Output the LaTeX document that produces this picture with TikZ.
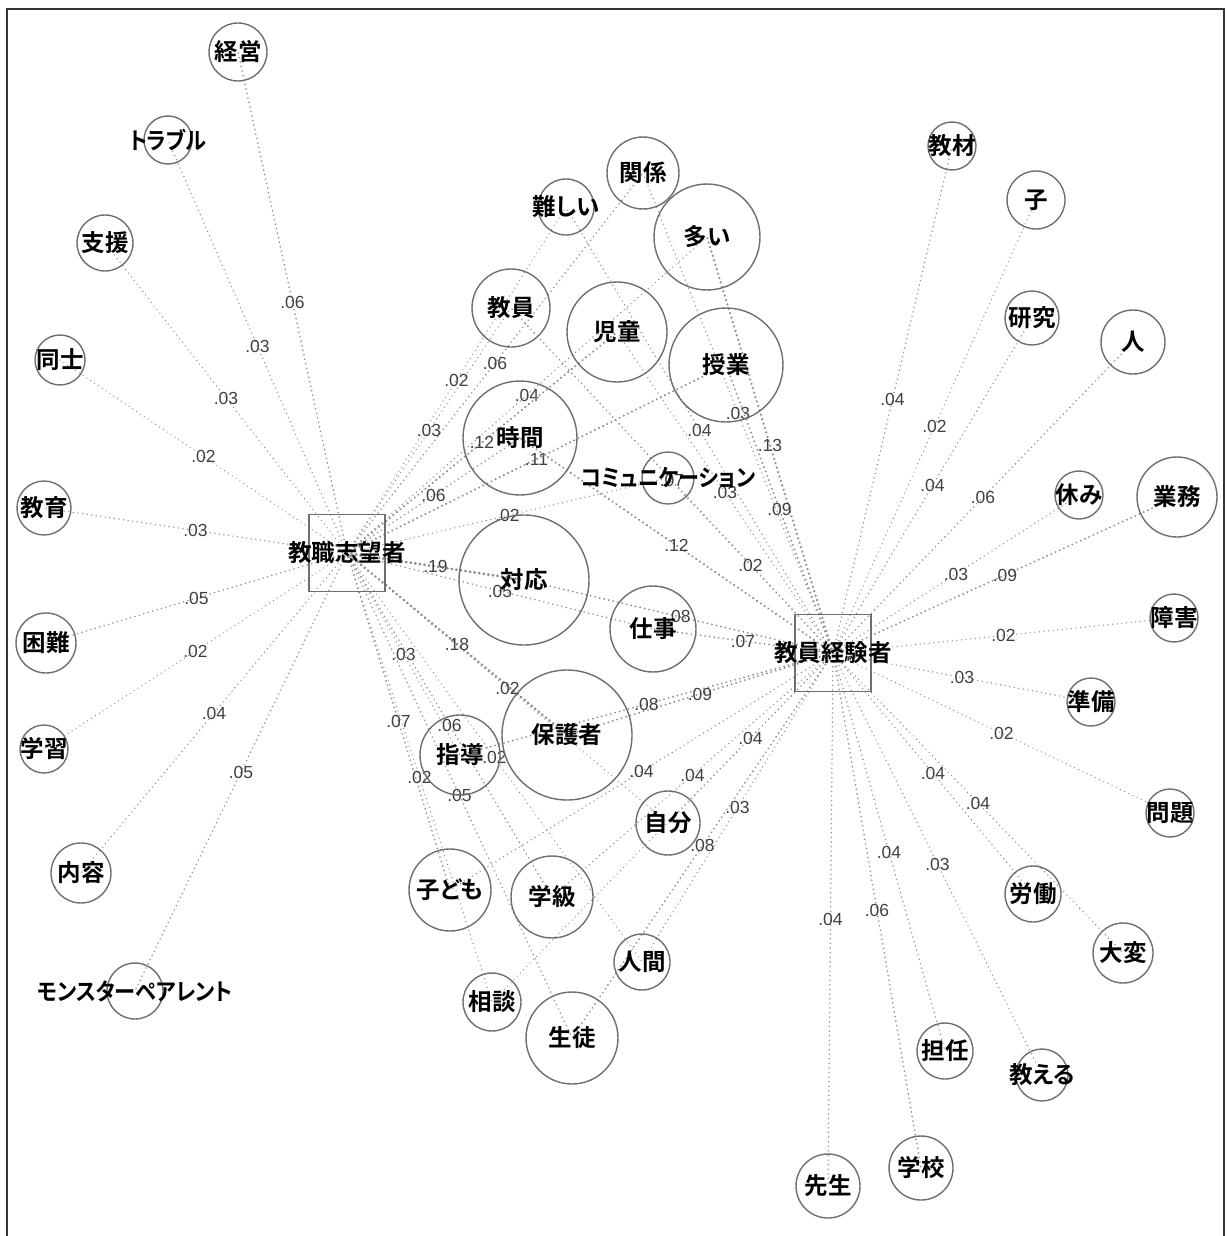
\documentclass[tikz,border=0pt]{standalone}
\usepackage{fontspec}
\setmainfont{Noto Sans CJK JP}[BoldFont={Noto Sans CJK JP Bold}, RawFeature=+palt]
\newfontfamily\coeffont{Liberation Sans}
\pgfdeclarelayer{bg}
\pgfsetlayers{bg,main}
\definecolor{dotgray}{HTML}{8E8E8E}
\definecolor{rimgray}{HTML}{6E6E6E}
\tikzset{
  word/.style={circle, draw=rimgray, line width=1.4pt, minimum size=#1, inner sep=0pt,
    font=\fontsize{23.5}{25}\selectfont\bfseries},
  hub/.style={draw=rimgray, line width=1.4pt, minimum width=76pt, minimum height=77pt,
    inner sep=0pt, font=\fontsize{23.5}{25}\selectfont\bfseries},
  coef/.style={font=\coeffont\fontsize{17.5}{19}\selectfont, text=black!75, inner sep=0pt},
  link/.style={draw=dotgray, line cap=round, dash pattern=on 0.01pt off 4.6pt},
}
% text wider than its circle is let out of it
\newcommand{\kw}[1]{\makebox[0pt]{#1}}
% katakana words are set a little narrower
\newcommand{\kk}[1]{\makebox[0pt]{\scalebox{0.9}[1]{#1}}}
\newcommand{\cooc}[3]{\draw[link, line width=1.2pt+0#3*10pt] (#1.center) -- node[coef] {#3} (#2.center);}

\begin{document}
\begin{tikzpicture}[x=1pt, y=-1pt]
\useasboundingbox (0,0) rectangle (1227,1236);
\draw[line width=2pt, black!80] (7,1236) -- (7,9) -- (1224,9) -- (1224,1236);

\node[hub] (shibou) at (347,553) {\kw{教職志望者}};
\node[hub] (keiken) at (833,653) {\kw{教員経験者}};

% words of the applicants
\node[word=58pt] (keiei) at (238,52) {\kw{経営}};
\node[word=48pt] (trouble) at (168,140) {\kk{トラブル}};
\node[word=56pt] (shien) at (105,243) {\kw{支援}};
\node[word=50pt] (doushi) at (60,360) {\kw{同士}};
\node[word=54pt] (kyouiku) at (44,508) {\kw{教育}};
\node[word=60pt] (konnan) at (46,643) {\kw{困難}};
\node[word=48pt] (gakushu) at (44,749) {\kw{学習}};
\node[word=60pt] (naiyou) at (81,873) {\kw{内容}};
\node[word=56pt] (monpe) at (135,991) {\kk{モンスターペアレント}};

% shared words
\node[word=72pt] (kankei) at (643,173) {\kw{関係}};
\node[word=56pt] (muzukashii) at (566,207) {\kw{難しい}};
\node[word=106pt] (ooi) at (707,237) {\kw{多い}};
\node[word=78pt] (kyouin) at (511,308) {\kw{教員}};
\node[word=100pt] (jidou) at (617,332) {\kw{児童}};
\node[word=114pt] (jugyou) at (726,365) {\kw{授業}};
\node[word=114pt] (jikan) at (520,438) {\kw{時間}};
\node[word=52pt] (comm) at (668,478) {\kk{コミュニケーション}};
\node[word=130pt] (taiou) at (524,580) {\kw{対応}};
\node[word=86pt] (shigoto) at (653,629) {\kw{仕事}};
\node[word=130pt] (hogosha) at (567,735) {\kw{保護者}};
\node[word=80pt] (shidou) at (460,755) {\kw{指導}};
\node[word=64pt] (jibun) at (668,823) {\kw{自分}};
\node[word=82pt] (kodomo) at (450,890) {\kw{子ども}};
\node[word=82pt] (gakkyu) at (552,897) {\kw{学級}};
\node[word=56pt] (ningen) at (642,962) {\kw{人間}};
\node[word=58pt] (soudan) at (492,1002) {\kw{相談}};
\node[word=92pt] (seito) at (572,1038) {\kw{生徒}};

% words of the teachers
\node[word=48pt] (kyozai) at (952,146) {\kw{教材}};
\node[word=58pt] (ko) at (1036,200) {\kw{子}};
\node[word=54pt] (kenkyu) at (1032,318) {\kw{研究}};
\node[word=64pt] (hito) at (1133,342) {\kw{人}};
\node[word=48pt] (yasumi) at (1079,495) {\kw{休み}};
\node[word=80pt] (gyomu) at (1177,497) {\kw{業務}};
\node[word=48pt] (shogai) at (1174,618) {\kw{障害}};
\node[word=48pt] (junbi) at (1091,702) {\kw{準備}};
\node[word=48pt] (mondai) at (1170,813) {\kw{問題}};
\node[word=56pt] (roudou) at (1033,894) {\kw{労働}};
\node[word=60pt] (taihen) at (1123,953) {\kw{大変}};
\node[word=56pt] (tannin) at (945,1051) {\kw{担任}};
\node[word=52pt] (oshieru) at (1042,1075) {\kw{教える}};
\node[word=64pt] (gakkou) at (921,1168) {\kw{学校}};
\node[word=64pt] (sensei) at (828,1186) {\kw{先生}};

\begin{pgfonlayer}{bg}
% Jaccard links of the applicants
\cooc{shibou}{keiei}{.06}
\cooc{shibou}{trouble}{.03}
\cooc{shibou}{shien}{.03}
\cooc{shibou}{doushi}{.02}
\cooc{shibou}{kyouiku}{.03}
\cooc{shibou}{konnan}{.05}
\cooc{shibou}{gakushu}{.02}
\cooc{shibou}{naiyou}{.04}
\cooc{shibou}{monpe}{.05}
\cooc{shibou}{muzukashii}{.02}
\cooc{shibou}{kankei}{.06}
\cooc{shibou}{kyouin}{.03}
\cooc{shibou}{ooi}{.04}
\cooc{shibou}{jidou}{.12}
\cooc{shibou}{jugyou}{.11}
\cooc{shibou}{jikan}{.06}
\cooc{shibou}{comm}{.02}
\cooc{shibou}{taiou}{.19}
\cooc{shibou}{shigoto}{.05}
\cooc{shibou}{hogosha}{.18}
\cooc{shibou}{shidou}{.03}
\cooc{shibou}{kodomo}{.07}
\cooc{shibou}{gakkyu}{.06}
\cooc{shibou}{jibun}{.02}
\cooc{shibou}{soudan}{.02}
\cooc{shibou}{seito}{.05}
\cooc{shibou}{ningen}{.02}
% Jaccard links of the teachers
\cooc{keiken}{kyozai}{.04}
\cooc{keiken}{ko}{.02}
\cooc{keiken}{kenkyu}{.04}
\cooc{keiken}{hito}{.06}
\cooc{keiken}{yasumi}{.03}
\cooc{keiken}{gyomu}{.09}
\cooc{keiken}{shogai}{.02}
\cooc{keiken}{junbi}{.03}
\cooc{keiken}{mondai}{.02}
\cooc{keiken}{roudou}{.04}
\cooc{keiken}{taihen}{.04}
\cooc{keiken}{tannin}{.04}
\cooc{keiken}{oshieru}{.03}
\cooc{keiken}{gakkou}{.06}
\cooc{keiken}{sensei}{.04}
\cooc{keiken}{kankei}{.03}
\cooc{keiken}{muzukashii}{.04}
\cooc{keiken}{ooi}{.13}
\cooc{keiken}{kyouin}{.07}
\cooc{keiken}{jidou}{.03}
\cooc{keiken}{jugyou}{.09}
\cooc{keiken}{jikan}{.12}
\cooc{keiken}{comm}{.02}
\cooc{keiken}{taiou}{.08}
\cooc{keiken}{shigoto}{.07}
\cooc{keiken}{hogosha}{.09}
\cooc{keiken}{shidou}{.08}
\cooc{keiken}{jibun}{.04}
\cooc{keiken}{kodomo}{.04}
\cooc{keiken}{gakkyu}{.04}
\cooc{keiken}{ningen}{.03}
\cooc{keiken}{seito}{.08}
\draw[link, line width=1.4pt] (keiken.center) -- (soudan.center);
\end{pgfonlayer}
\end{tikzpicture}
\end{document}
